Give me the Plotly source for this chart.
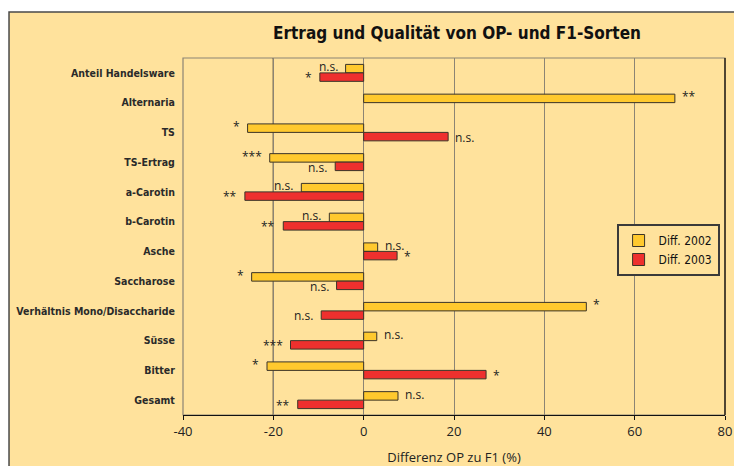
import plotly.graph_objects as go

categories = ["Anteil Handelsware", "Alternaria", "TS", "TS-Ertrag", "a-Carotin",
              "b-Carotin", "Asche", "Saccharose", "Verhältnis Mono/Disaccharide",
              "Süsse", "Bitter", "Gesamt"]
diff_2002 = [-4.0, 68.9, -25.7, -20.8, -13.8, -7.6, 3.1, -24.8, 49.3, 2.9, -21.4, 7.6]
diff_2003 = [-9.7, None, 18.7, -6.3, -26.3, -17.8, 7.4, -6.0, -9.4, -16.2, 27.1, -14.6]
sig_2002 = ["n.s.", "**", "*", "***", "n.s.", "n.s.", "n.s.", "*", "*", "n.s.", "*", "n.s."]
sig_2003 = ["*", "", "n.s.", "n.s.", "**", "**", "*", "n.s.", "n.s.", "***", "*", "**"]
x_ticks = [-40, -20, 0, 20, 40, 60, 80]
x_tick_labels = ["-40", "-20", "0", "20", "40", "60", "80"]

BG = "#FFE29C"
YELLOW = "#FFC92E"
RED = "#EE302E"
EDGE = "#3a3328"
LABEL_FONT = "DejaVu Sans Condensed, Liberation Sans Narrow, sans-serif"
TEXT_FONT = "Open Sans, Noto Sans, sans-serif"

fig = go.Figure()
fig.add_trace(go.Bar(y=categories, x=diff_2002, orientation="h", name="Diff. 2002",
                     marker=dict(color=YELLOW, line=dict(color=EDGE, width=1))))
fig.add_trace(go.Bar(y=categories, x=diff_2003, orientation="h", name="Diff. 2003",
                     marker=dict(color=RED, line=dict(color=EDGE, width=1))))

annotations = []
for cat, v, s in zip(categories, diff_2002, sig_2002):
    if v is None or not s:
        continue
    annotations.append(dict(x=v, y=cat, text=s, showarrow=False,
                            xanchor="left" if v >= 0 else "right",
                            xshift=5 if v >= 0 else -6, yshift=6,
                            font=dict(family=TEXT_FONT, size=12, color="#222")))
for cat, v, s in zip(categories, diff_2003, sig_2003):
    if v is None or not s:
        continue
    annotations.append(dict(x=v, y=cat, text=s, showarrow=False,
                            xanchor="left" if v >= 0 else "right",
                            xshift=5 if v >= 0 else -6, yshift=-5,
                            font=dict(family=TEXT_FONT, size=12, color="#222")))

n = len(categories)
xr = [x_ticks[0], x_ticks[-1]]
zero_pos = (0 - xr[0]) / (xr[1] - xr[0])

shapes = [
    dict(type="rect", xref="paper", yref="paper", x0=-0.321, x1=1.3, y0=-0.3, y1=1.1289,
         fillcolor=BG, line=dict(color="#4a4a4a", width=1.5), layer="below"),
    dict(type="rect", xref="paper", yref="paper", x0=0, x1=1, y0=0, y1=1,
         line=dict(color="#8c8474", width=1.2), layer="below"),
    dict(type="line", xref="paper", yref="paper", x0=1, x1=1, y0=0, y1=1,
         line=dict(color="#2e2618", width=1.5)),
    dict(type="line", xref="x", yref="paper", x0=-20, x1=-20, y0=0, y1=1,
         line=dict(color="#1a1a1a", width=1.2), layer="below"),
]

fig.update_layout(
    width=734, height=458,
    margin=dict(l=175, r=17, t=50, b=51, autoexpand=False),
    paper_bgcolor="white",
    plot_bgcolor="rgba(0,0,0,0)",
    barmode="group", bargap=0.43, bargroupgap=0,
    title=dict(text="Ertrag und Qualität von OP- und F1-Sorten",
               x=0.6117, xanchor="center", y=0.945, yanchor="middle",
               font=dict(family=LABEL_FONT, size=17, color="#111", weight="bold")),
    xaxis=dict(range=xr, tickvals=x_ticks, ticktext=x_tick_labels,
               showgrid=True, gridcolor="#8c8474", gridwidth=1.2,
               zeroline=False, showline=True, linecolor="#111", linewidth=1.2,
               ticks="outside", ticklen=4, tickcolor="#111",
               tickfont=dict(family=TEXT_FONT, size=13, color="#222"),
               title=dict(text="Differenz OP zu F1 (%)", standoff=14,
                          font=dict(family=TEXT_FONT, size=13, color="#222"))),
    yaxis=dict(type="category", categoryarray=categories, range=[n - 0.5, -0.5],
               showgrid=False, zeroline=False, showline=False,
               ticks="outside", ticklen=5, tickcolor="rgba(0,0,0,0)",
               tickfont=dict(family=LABEL_FONT, size=10.5, color="#2a2a2a", weight="bold")),
    yaxis2=dict(overlaying="y", anchor="free", position=zero_pos, side="left",
                range=[n - 0.5, -0.5], tickvals=[i + 0.5 for i in range(n - 1)],
                ticks="outside", ticklen=4, tickcolor="#111", showticklabels=False,
                showgrid=False, zeroline=False, showline=True, linecolor="#111", linewidth=1.2),
    legend=dict(x=0.99, y=0.535, xanchor="right", yanchor="top",
                bgcolor=BG, bordercolor="#3a3a3a", borderwidth=2,
                font=dict(family=LABEL_FONT, size=12, color="#111"),
                itemwidth=30, tracegroupgap=0),
    annotations=annotations,
    shapes=shapes,
    showlegend=True,
)

fig.write_html("out.html")
